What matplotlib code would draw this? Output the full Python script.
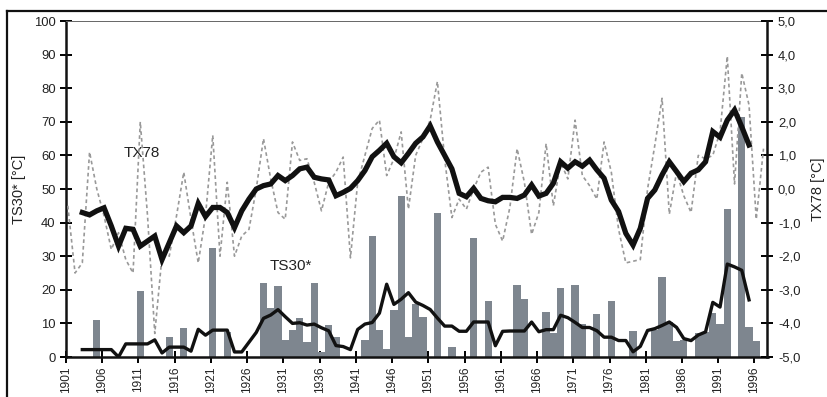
import numpy as np
import matplotlib.pyplot as plt
from matplotlib.lines import Line2D

plt.rcParams['font.family'] = ['Liberation Sans', 'DejaVu Sans']

# years of the annual series and of the 5-year running means
years = np.arange(1901, 1998)
years_ma = np.arange(1903, 1996)

# TS30* annual values (bars, left axis)
ts30 = [0, 0, 0, 0, 11, 0, 0, 0, 0, 0,
        19.5, 0, 0, 0, 6, 0, 8.7, 0, 0, 0,
        32.5, 0, 7.5, 0, 0, 0, 0, 22, 14.5, 21,
        5, 8, 11.5, 4.5, 22, 1.5, 9.5, 6, 0, 0,
        0, 5, 36, 8, 2.3, 14, 48, 6, 15.7, 12,
        0, 43, 0, 3, 0, 0, 35.3, 0, 16.8, 0,
        0, 0, 21.4, 17.3, 0, 0, 13.3, 7, 20.4, 0,
        21.4, 9.7, 0, 12.8, 0, 16.7, 0, 0, 7.8, 0,
        0, 8, 23.7, 10.5, 4.7, 5.2, 0, 7, 7.5, 13,
        9.8, 44, 0, 71.5, 8.8, 4.7, 0]

# TS30* running mean 1903-1995
ts30_ma = [2.2, 2.2, 2.2, 2.2, 2.2, 0.0, 3.9, 3.9, 3.9, 3.9,
           5.1, 1.2, 2.94, 2.94, 2.94, 1.74, 8.24, 6.5, 8.0, 8.0,
           8.0, 1.5, 1.5, 4.4, 7.3, 11.5, 12.5, 14.1, 12.0, 10.0,
           10.2, 9.5, 9.8, 8.7, 7.8, 3.4, 3.1, 2.2, 8.2, 9.8,
           10.26, 13.06, 21.66, 15.66, 17.2, 19.14, 16.34, 15.34, 14.14, 11.6,
           9.2, 9.2, 7.66, 7.66, 10.42, 10.42, 10.42, 3.36, 7.64, 7.74,
           7.74, 7.74, 10.4, 7.52, 8.14, 8.14, 12.42, 11.7, 10.3, 8.78,
           8.78, 7.84, 5.9, 5.9, 4.9, 4.9, 1.56, 3.16, 7.9, 8.44,
           9.38, 10.42, 8.82, 5.48, 4.88, 6.54, 7.46, 16.26, 14.86, 27.66,
           26.82, 25.8, 17.0]

# TX78 annual anomalies (dotted line, right axis)
tx78 = [-0.5, -2.5, -2.2, 1.1, 0.0, -0.8, -1.8, -1.3, -2.1, -2.5,
        2.0, -0.8, -4.3, -2.0, -2.0, -0.8, 0.5, -0.9, -2.2, -0.8,
        1.6, -2.0, 0.2, -2.0, -1.4, -1.2, 0.0, 1.5, 0.3, -0.7,
        -0.9, 1.4, 0.85, 0.9, 0.2, -0.65, 0.2, 0.5, 0.95, -2.05,
        0.2, 1.0, 1.8, 2.05, 0.4, 0.9, 1.7, -0.6, 1.0, 1.5,
        2.05, 3.2, 0.9, -0.85, -0.3, -0.6, 0.0, 0.5, 0.65, -1.05,
        -1.55, -0.55, 1.2, 0.2, -1.35, -0.7, 1.35, -0.5, 0.8, 0.3,
        2.05, 0.4, 0.1, -0.3, 1.4, 0.5, -1.2, -2.2, -2.15, -2.1,
        0.0, 1.3, 2.7, -0.75, 0.5, -0.2, -0.7, 1.0, 0.9, 1.0,
        1.7, 3.95, 0.15, 3.45, 2.5, -0.9, 1.2]

# TX78 running mean 1903-1995
tx78_ma = [-0.70, -0.77, -0.65, -0.56, -1.10, -1.70, -1.17, -1.20, -1.70, -1.55,
           -1.40, -2.10, -1.60, -1.10, -1.30, -1.10, -0.43, -0.82, -0.55, -0.55,
           -0.70, -1.15, -0.65, -0.30, 0.00, 0.10, 0.15, 0.40, 0.25, 0.40,
           0.60, 0.65, 0.35, 0.30, 0.27, -0.20, -0.10, 0.02, 0.25, 0.55,
           0.96, 1.15, 1.36, 0.96, 0.78, 1.06, 1.36, 1.55, 1.88, 1.40,
           1.00, 0.60, -0.13, -0.23, 0.02, -0.28, -0.35, -0.38, -0.25, -0.25,
           -0.28, -0.18, 0.12, -0.21, -0.13, 0.17, 0.81, 0.62, 0.81, 0.68,
           0.86, 0.57, 0.32, -0.33, -0.67, -1.32, -1.67, -1.17, -0.28, -0.03,
           0.42, 0.81, 0.52, 0.22, 0.47, 0.57, 0.81, 1.71, 1.54, 2.05,
           2.35, 1.85, 1.31]

tick_years = list(range(1901, 1997, 5))
left_ticks = list(range(0, 101, 10))
right_ticks = list(range(-5, 6))

shift = 0.25
ink = '#222222'

fig = plt.figure(figsize=(8.27, 3.97), dpi=100)
ax = fig.add_axes([66 / 827, 40 / 397, 701.5 / 827, 336 / 397])
ax2 = ax.twinx()

ax.bar(years + shift, ts30, width=1.0, color='#7e868f', linewidth=0, zorder=2)
ax.plot(years_ma + shift, ts30_ma, color='#111111', lw=2.4, zorder=3)

ax2.plot(years + shift, tx78, color='#999999', lw=1.2, ls=(0, (2.2, 1.8)))
ax2.plot(years_ma + shift, tx78_ma, color='#111111', lw=3.8,
         solid_joinstyle='miter')

ax.set_xlim(1901, 1997.8)
ax.set_ylim(0, 100)
ax2.set_ylim(-5, 5)

ax.set_xticks(tick_years)
ax.set_xticklabels([str(y) for y in tick_years], rotation=90, fontsize=8.6, color=ink)
ax.set_yticks(left_ticks)
ax.set_yticklabels([str(v) for v in left_ticks], fontsize=9.4, color=ink)
ax2.set_yticks(right_ticks)
ax2.set_yticklabels([f"{v:.1f}".replace('.', ',') for v in right_ticks],
                    fontsize=9.4, color=ink)

ax.tick_params(axis='x', direction='inout', length=9, width=1.4, pad=2)
ax.tick_params(axis='y', direction='inout', length=9, width=1.4, pad=3)
ax2.tick_params(axis='y', direction='inout', length=9, width=1.4, pad=3)

for s in ['left', 'bottom']:
    ax.spines[s].set_linewidth(1.8)
    ax.spines[s].set_color('#111111')
ax.spines['top'].set_linewidth(0.7)
ax.spines['top'].set_color('#666666')
ax.spines['right'].set_visible(False)
for s in ['top', 'left', 'bottom']:
    ax2.spines[s].set_visible(False)
ax2.spines['right'].set_linewidth(1.8)
ax2.spines['right'].set_color('#111111')

ax.set_ylabel("TS30* [°C]", fontsize=10.5, color=ink)
ax.yaxis.set_label_coords(-0.057, 0.5)
ax2.set_ylabel("TX78 [°C]", fontsize=10.5, color=ink, rotation=90)
ax2.yaxis.set_label_coords(1.062, 0.5)

ax.text(1911.4, 60.6, "TX78", fontsize=11, color=ink, ha='center', va='center', zorder=5)
ax.text(1932.0, 27.2, "TS30*", fontsize=11, color=ink, ha='center', va='center', zorder=5)

# frame around the figure
top = 1 - 10.7 / 397
left = 7 / 827
fig.add_artist(Line2D([left, 1], [top, top], transform=fig.transFigure,
                      color='#111111', lw=1.6))
fig.add_artist(Line2D([left, left], [0, top], transform=fig.transFigure,
                      color='#111111', lw=1.6))

fig.savefig('out.png', dpi=100)
